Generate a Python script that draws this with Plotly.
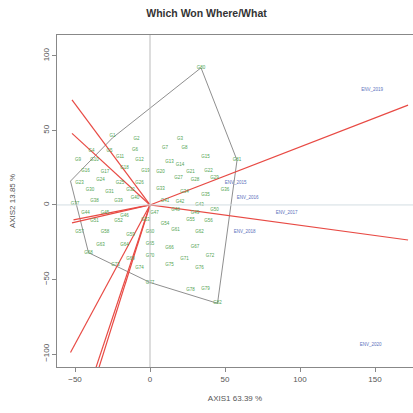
import plotly.graph_objects as go

# Genotype scores
gen_x = [-25, -9, 20, -39, -27, -10, 10, 23, -48, -37, -20, -7, 13, 20, 37,
         -43, -30, -17, -3, 7, 27, 39, -47, -33, -20, -7, 19, 30, 43,
         -40, -27, -13, 7, 23, 37, 50, -50, -37, -21, -10, 10, 20, 33,
         -43, -30, -17, 3, 17, 30, 43, -37, -21, -3, 10, 27, 39,
         -47, -30, -13, 0, 17, 33, -33, -17, 0, 13, 30, -41, -13, 0, 23, 40,
         -23, -7, 13, 33, 0, 27, 37, 34, 58, 45]
gen_y = [46, 44, 44, 36, 36, 37, 38, 38, 30, 30, 32, 30, 29, 27, 32,
         23, 22, 25, 23, 22, 22, 23, 15, 17, 15, 15, 18, 17, 18,
         10, 9, 10, 11, 9, 7, 10, 1, 3, 3, 5, 3, 2, 0,
         -5, -5, -7, -5, -3, -5, -3, -11, -11, -10, -13, -10, -11,
         -18, -18, -20, -18, -17, -18, -27, -27, -26, -29, -28, -32, -36, -34, -36, -34,
         -40, -42, -40, -42, -52, -57, -56, 92, 30, -66]
gen_lab = ["G%d" % (i + 1) for i in range(len(gen_x))]

# Environment labels
env_x = [57, 65, 91, 63, 148, 147]
env_y = [15, 5, -5, -18, 77, -94]
env_lab = ["ENV_2015", "ENV_2016", "ENV_2017", "ENV_2018", "ENV_2019", "ENV_2020"]

# Convex hull (polygon) vertices
hull_x = [-53, -25, 34, 58, 45, 0, -41, -53]
hull_y = [16, 45, 92, 30, -66, -52, -32, 16]

# Sector rays (end points, from origin)
ray_x = [-52, -52, 172, 172, -52, -51, -53, -34, -36]
ray_y = [70.5, 48, 67, -23.5, -12, -10, -99, -109, -109]

title = "Which Won Where/What"
xlab = "AXIS1 63.39 %"
ylab = "AXIS2 13.85 %"
xticks = [-50, 0, 50, 100, 150]
yticks = [-100, -50, 0, 50, 100]

fig = go.Figure()

# origin lines
fig.add_shape(type="line", x0=0, x1=0, y0=-120, y1=120, line=dict(color="#bbbbbb", width=1))
fig.add_shape(type="line", x0=-70, x1=190, y0=0, y1=0, line=dict(color="#d3dde2", width=1))

fig.add_trace(go.Scatter(x=hull_x, y=hull_y, mode="lines",
                         line=dict(color="#8f8f8f", width=1), hoverinfo="skip"))

for rx, ry in zip(ray_x, ray_y):
    fig.add_trace(go.Scatter(x=[0, rx], y=[0, ry], mode="lines",
                             line=dict(color="#e84a44", width=1.2), hoverinfo="skip"))

fig.add_trace(go.Scatter(x=gen_x, y=gen_y, mode="text", text=gen_lab,
                         textfont=dict(color="#4fa34f", size=4.5, family="Liberation Sans")))
fig.add_trace(go.Scatter(x=env_x, y=env_y, mode="text", text=env_lab,
                         textfont=dict(color="#5a70bc", size=4.5, family="Liberation Sans")))

fig.update_layout(
    width=413, height=413,
    margin=dict(l=57, r=0, t=35, b=46),
    plot_bgcolor="white", paper_bgcolor="white",
    showlegend=False,
    title=dict(text="<b>" + title + "</b>", x=0.5, xanchor="center", y=0.967, yanchor="middle",
               font=dict(size=10.5, color="#333", family="Liberation Sans")),
    font=dict(family="Liberation Sans", color="#333"),
)
fig.update_xaxes(range=[-62, 175.3], tickvals=xticks, showgrid=False, zeroline=False,
                 showline=True, linecolor="#888", mirror=True, ticks="outside", ticklen=4,
                 tickcolor="#888", tickfont=dict(size=8, color="#555"),
                 title=dict(text=xlab, font=dict(size=8, color="#555"), standoff=12))
fig.update_yaxes(range=[-108.7, 114], tickvals=yticks, showgrid=False, zeroline=False,
                 showline=True, linecolor="#888", mirror=True, ticks="outside", ticklen=4,
                 tickcolor="#888", tickangle=-90, tickfont=dict(size=8, color="#555"),
                 title=dict(text=ylab, font=dict(size=8, color="#555"), standoff=24))

fig.write_html("out.html")
